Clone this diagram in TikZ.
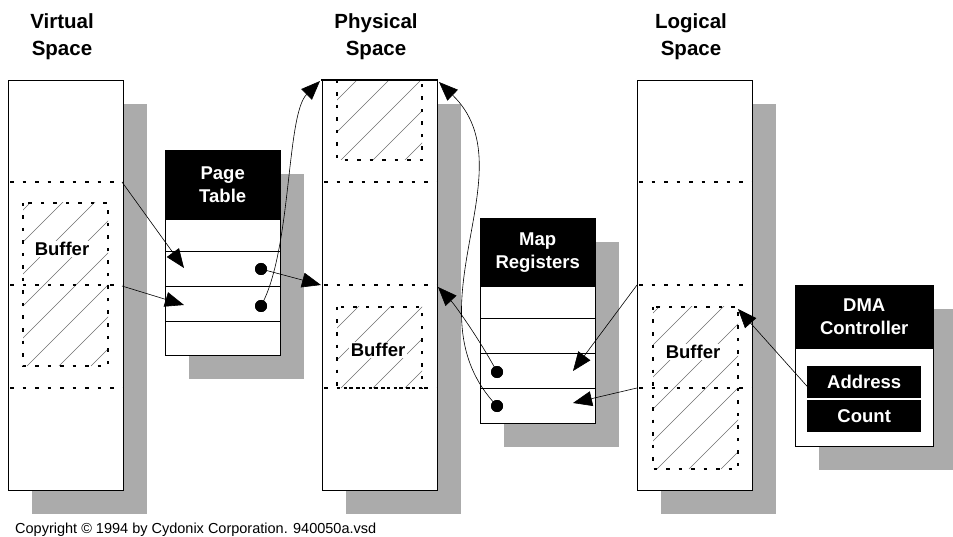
\documentclass[tikz,border=0pt]{standalone}
\usepackage{fontspec}
\setmainfont{Liberation Sans}
\usetikzlibrary{arrows.meta,calc,positioning}
\definecolor{ink}{HTML}{000000}
\definecolor{halftone}{HTML}{ABABAB}
\definecolor{hatch}{HTML}{707070}

\begin{document}
\begin{tikzpicture}[x=1pt,y=-1pt,
  font=\bfseries\fontsize{18.5}{23}\selectfont,
  frame/.style={draw=ink,fill=white,line width=0.8pt},
  shade/.style={fill=halftone},
  seam/.style={draw=ink,line width=2.2pt,dash pattern=on 3.5pt off 9pt},
  hatchline/.style={draw=hatch,line width=0.5pt},
  header/.style={fill=ink,text=white,align=center,inner sep=0pt,anchor=north west},
  title/.style={align=center,inner sep=0pt,font=\bfseries\fontsize{20.5}{27}\selectfont},
  bufname/.style={fill=white,inner sep=1.5pt},
  link/.style={draw=ink,line width=0.6pt,-{Triangle[length=19pt,width=15pt]}},
  pin/.style={circle,fill=ink,inner sep=0pt,minimum size=12pt}]
  \useasboundingbox (0,0) rectangle (953,537);

  % address spaces
  \foreach \x/\name/\txt in {8/virt/Virtual,322/phys/Physical,637/logi/Logical} {
    \fill[shade] (\x+24,104) rectangle (\x+139,514);
    \draw[frame] (\x,80) rectangle (\x+115,490);
    \node[title] (\name) at (\x+54,37) {\txt\\Space};
  }

  % buffers
  \foreach \xa/\ya/\xb/\yb in {23/203/108/366,337/80/422/160,337/307/422/388,653/307/738/469} {
    \begin{scope}
      \clip (\xa,\ya) rectangle (\xb,\yb);
      \foreach \k in {14,46,...,270}
        \draw[hatchline] (\xa+\k-170,\yb) -- ++(170,-170);
    \end{scope}
    \draw[seam] (\xa,\ya) rectangle (\xb,\yb);
  }
  \foreach \x in {8,322,637}
    \foreach \y in {182,285,388}
      \draw[seam] (\x+2,\y) -- (\x+115,\y);
  \draw[ink,line width=2.6pt] (321,80) -- (438,80);

  \node[bufname] (vbuf) at (62,249) {Buffer};
  \node[bufname] (pbuf) at (378,350) {Buffer};
  \node[bufname] (lbuf) at (693,352) {Buffer};

  % page table
  \fill[shade] (189,174) rectangle (304,379);
  \draw[frame] (165,150) rectangle (280,355);
  \node[header,minimum width=115pt,minimum height=70pt] (ptab) at (165,150) {Page\\Table};
  \foreach \y in {251,286,321}
    \draw[ink,line width=0.8pt] (165,\y) -- (280,\y);

  % map registers
  \fill[shade] (504,242) rectangle (619,447);
  \draw[frame] (480,218) rectangle (595,423);
  \node[header,minimum width=115pt,minimum height=69pt] (mreg) at (480,218) {Map\\Registers};
  \foreach \y in {318,353,388}
    \draw[ink,line width=0.8pt] (480,\y) -- (595,\y);

  % dma controller
  \fill[shade] (819,309) rectangle (957,470);
  \draw[frame] (795,285) rectangle (933,446);
  \node[header,minimum width=138pt,minimum height=64pt] (dma) at (795,285) {DMA\\Controller};
  \node[header,minimum width=114pt,minimum height=32pt] (addr) at (807,366) {Address};
  \node[header,minimum width=114pt,minimum height=32pt] (count) at (807,400) {Count};

  % link ends
  \coordinate (v1) at (122,182);
  \coordinate (v2) at (122,286);
  \coordinate (pt1) at (184,268);
  \coordinate (pt2) at (184,305);
  \coordinate (ptop) at (320,81);
  \coordinate (pmid) at (321,285);
  \coordinate (ptopr) at (439,82);
  \coordinate (pmidr) at (438,287);
  \coordinate (l1) at (637,285);
  \coordinate (l2) at (637,388);
  \coordinate (mr1) at (573,371);
  \coordinate (mr2) at (573,403);
  \coordinate (lbtop) at (738,309);

  \node[pin] (pd1) at (261,269) {};
  \node[pin] (pd2) at (261,306) {};
  \node[pin] (md1) at (497,372) {};
  \node[pin] (md2) at (497,406) {};

  \draw[link] (v1) -- (pt1);
  \draw[link] (v2) -- (pt2);
  \draw[link] (pd1.center) -- (pmid);
  \draw[link] (pd2.center) .. controls (292,250) and (286,115) .. (ptop);
  \draw[link] (md1.center) .. controls (480,340) and (455,305) .. (pmidr);
  \draw[link] (md2.center) .. controls (405,310) and (530,170) .. (ptopr);
  \draw[link] (l1) -- (mr1);
  \draw[link] (l2) -- (mr2);
  \draw[link] (addr.west) ++(0,4) coordinate (a0) (a0) -- (lbtop);

  \node[pin] at (pd1) {};
  \node[pin] at (pd2) {};
  \node[pin] at (md1) {};
  \node[pin] at (md2) {};

  \node[anchor=base west,inner sep=0pt,font=\fontsize{14.5}{17}\selectfont] (copy) at (15,533)
    {Copyright © 1994 by Cydonix Corporation. 940050a.vsd};
\end{tikzpicture}
\end{document}
